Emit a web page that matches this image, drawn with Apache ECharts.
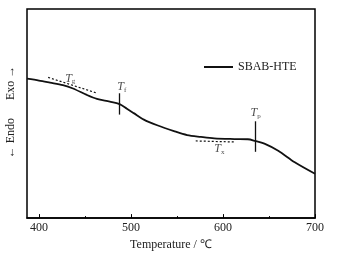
<!DOCTYPE html>
<html>
<head>
<meta charset="utf-8">
<script src="https://cdn.jsdelivr.net/npm/echarts@6/dist/echarts.min.js"></script>
<style>
html, body { margin: 0; padding: 0; background: #fff; }
#main { width: 345px; height: 256px; }
</style>
</head>
<body>
<div id="main"></div>
<script>
// DSC curve (temperature in ℃, signal in arbitrary units 0-100)
var temps = [387, 400, 412, 426, 437, 452, 463, 477, 487.6, 495.6, 503, 514, 528.5, 546.7, 561, 576, 590.5, 612.4, 627, 635, 645, 660, 678, 700];
var signal = [66.7, 65.8, 64.8, 63.6, 62, 58.9, 57, 55.7, 54.5, 52.3, 50.2, 47.1, 44.4, 41.6, 39.7, 38.8, 38.1, 37.8, 37.7, 36.9, 35.6, 32.2, 26.7, 21.2];
var xLabels = [400, 500, 600, 700];
var xMinor = [450, 550, 650];

// characteristic temperatures: label position and subscript
var markNames = ['g', 'f', 'p', 'x'];
var markLabelT = [434, 490, 635.4, 596];
var markLabelV = [66.7, 62.8, 50.2, 33];

// vertical marks at Tf and Tp
var vertT = [487.6, 635];
var vertFrom = [59.7, 46.3];
var vertTo = [49.5, 31.7];

// dashed tangents at Tg and Tx
var tanT1 = [410, 570.4];
var tanV1 = [67.3, 36.9];
var tanT2 = [462.8, 612.4];
var tanV2 = [59.8, 36.4];

var serif = 'Liberation Serif, Times New Roman, serif';

var dom = document.getElementById('main');
var myChart = echarts.init(dom, null, { renderer: 'canvas' });

var curve = temps.map(function (t, i) { return [t, signal[i]]; });

var lines = [];
vertT.forEach(function (t, i) {
    lines.push([{ coord: [t, vertFrom[i]], lineStyle: { type: 'solid', width: 1.3 } }, { coord: [t, vertTo[i]] }]);
});
tanT1.forEach(function (t, i) {
    lines.push([{ coord: [t, tanV1[i]], lineStyle: { type: [2, 2], width: 1.2 } }, { coord: [tanT2[i], tanV2[i]] }]);
});

var labelData = markNames.map(function (n, i) {
    return { value: [markLabelT[i], markLabelV[i]], sub: n };
});

var option = {
    backgroundColor: '#fff',
    animation: false,
    grid: {
        left: 27, right: 30, top: 9, bottom: 34,
        show: true, borderColor: '#000', borderWidth: 1.5, backgroundColor: 'transparent'
    },
    legend: {
        data: ['SBAB-HTE'],
        left: 199, top: 56,
        icon: 'rect', itemWidth: 29, itemHeight: 2, itemGap: 5,
        textStyle: { fontFamily: serif, fontSize: 12, color: '#222' }
    },
    xAxis: [{
        type: 'value', min: 387, max: 700,
        name: 'Temperature / ℃', nameLocation: 'middle', nameGap: 15,
        nameTextStyle: { fontFamily: serif, fontSize: 12, color: '#222' },
        axisLine: { show: true, lineStyle: { color: '#000', width: 1.5 } },
        axisTick: { show: true, inside: true, length: 4, customValues: xLabels, lineStyle: { color: '#000' } },
        axisLabel: { customValues: xLabels, fontFamily: serif, fontSize: 12, color: '#222', margin: 4 },
        splitLine: { show: false }
    }, {
        type: 'value', min: 387, max: 700, position: 'bottom',
        axisLine: { show: false },
        axisTick: { show: true, inside: true, length: 2, customValues: xMinor, lineStyle: { color: '#000' } },
        axisLabel: { show: false },
        splitLine: { show: false }
    }],
    yAxis: {
        type: 'value', min: 0, max: 100,
        axisLine: { show: false },
        axisTick: { show: false },
        axisLabel: { show: false },
        splitLine: { show: false }
    },
    graphic: [{
        type: 'text',
        x: 11, y: 112,
        rotation: Math.PI / 2,
        style: {
            text: '← Endo      Exo →',
            font: '12px ' + serif,
            fill: '#222',
            align: 'center',
            verticalAlign: 'middle'
        }
    }],
    series: [{
        name: 'SBAB-HTE',
        type: 'line',
        data: curve,
        smooth: 0.3,
        showSymbol: false,
        lineStyle: { color: '#111', width: 1.8 },
        itemStyle: { color: '#111' },
        markLine: {
            silent: true,
            symbol: 'none',
            label: { show: false },
            lineStyle: { color: '#111' },
            data: lines
        }
    }, {
        type: 'scatter',
        data: labelData,
        symbolSize: 0,
        silent: true,
        label: {
            show: true,
            position: 'inside',
            formatter: function (p) { return '{t|T}{s|' + p.data.sub + '}'; },
            rich: {
                t: { fontFamily: serif, fontStyle: 'italic', fontSize: 12, color: '#222' },
                s: { fontFamily: serif, fontSize: 7, color: '#222', padding: [6, 0, 0, 0] }
            }
        }
    }]
};

option && myChart.setOption(option);
window.addEventListener('resize', myChart.resize);
</script>
</body>
</html>
